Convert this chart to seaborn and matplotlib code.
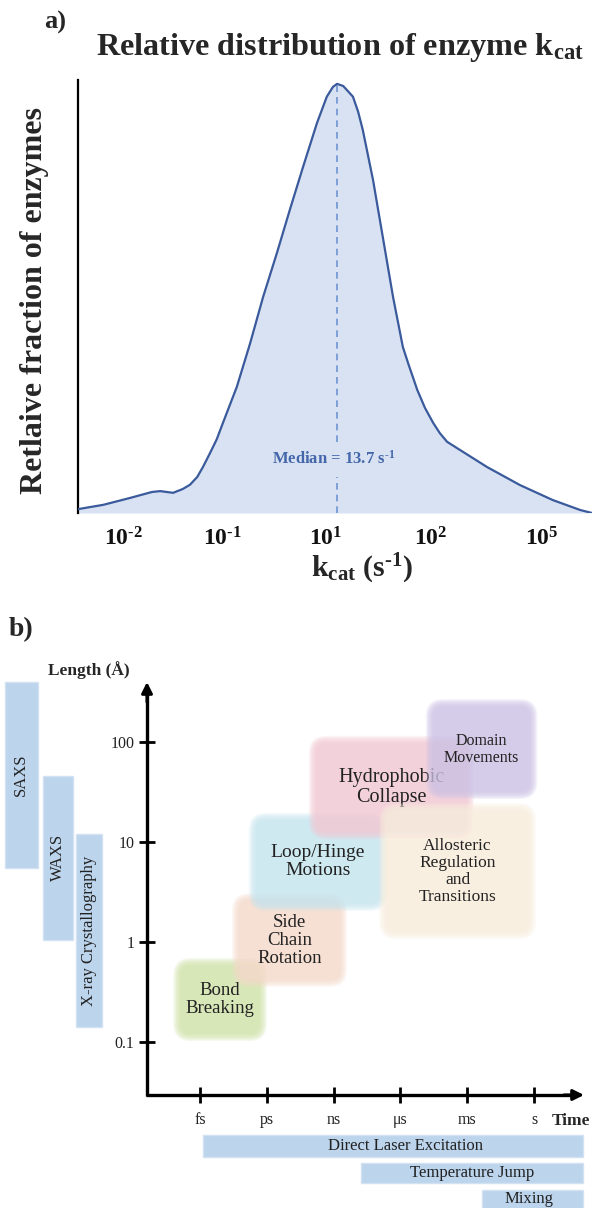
import numpy as np
import pandas as pd
import matplotlib
matplotlib.use("Agg")
import matplotlib.pyplot as plt
from matplotlib.patches import FancyBboxPatch, Rectangle
import seaborn as sns

# ---------------- Panel a data ----------------
# position along the (non-uniform) k_cat axis, 0..100 across the plotting area
kcat_pos = [0.0, 4.9, 10.1, 14.4, 16.0, 18.5, 20.4, 21.8, 23.2, 24.3,
            25.7, 27.0, 28.2, 30.9, 33.5, 36.0, 38.7, 41.2, 43.8, 46.5,
            48.4, 49.6, 50.4, 51.6, 53.5, 54.5, 55.4, 57.4, 59.3, 61.3,
            63.2, 64.2, 66.0, 67.5, 69.1, 70.4, 71.8, 74.3, 79.6, 86.0,
            92.4, 97.7, 100.0]
rel_fraction = [0.009, 0.019, 0.035, 0.049, 0.051, 0.047, 0.056, 0.066, 0.084, 0.107,
                0.140, 0.172, 0.210, 0.294, 0.396, 0.503, 0.606, 0.706, 0.807, 0.909,
                0.970, 0.993, 1.000, 0.995, 0.970, 0.935, 0.893, 0.776, 0.643, 0.503,
                0.387, 0.350, 0.287, 0.245, 0.210, 0.186, 0.166, 0.147, 0.107, 0.065,
                0.030, 0.007, 0.0]
kcat_tick_pos = [8.9, 28.0, 48.1, 68.7, 90.3]
kcat_tick_labels = [r'$\mathbf{10^{‐2}}$', r'$\mathbf{10^{‐1}}$', r'$\mathbf{10^{1}}$',
                    r'$\mathbf{10^{2}}$', r'$\mathbf{10^{5}}$']
median_pos = 50.4
median_label = r'Median = 13.7 s$^{\mathbf{‐1}}$'

# ---------------- Panel b data ----------------
time_labels = ['fs', 'ps', 'ns', 'μs', 'ms', 's']
length_ticks = [0.1, 1, 10, 100]
length_labels = ['0.1', '1', '10', '100']

processes = ['Bond\nBreaking', 'Side\nChain\nRotation', 'Loop/Hinge\nMotions',
             'Hydrophobic\nCollapse', 'Allosteric\nRegulation\nand\nTransitions',
             'Domain\nMovements']
proc_t_start = [-0.34, 0.54, 0.79, 1.69, 2.74, 3.44]   # time index (fs=0 ... s=5)
proc_t_end = [0.94, 2.14, 2.74, 4.04, 4.97, 4.99]
proc_len_min = [0.112, 0.39, 2.24, 11.7, 1.17, 29.5]   # Angstrom
proc_len_max = [0.63, 2.8, 17.8, 105, 22.4, 245]
proc_colors = ['#d2e4ab', '#f6dacb', '#c6e6f0', '#f3c9d4', '#f9eedd', '#cdc3e6']

struct_methods = ['SAXS', 'WAXS', 'X-ray Crystallography']
struct_len_min = [5.5, 1.05, 0.14]
struct_len_max = [400, 46, 12]

kin_methods = ['Direct Laser Excitation', 'Temperature Jump', 'Mixing']
kin_t_start = [0.05, 2.41, 4.22]
kin_t_end = [5.73, 5.73, 5.73]

# ---------------- style ----------------
sns.set_theme(style='white')
SERIF = ['Liberation Serif', 'DejaVu Serif']
plt.rcParams['font.family'] = SERIF
plt.rcParams['mathtext.fontset'] = 'custom'
plt.rcParams['mathtext.rm'] = 'Liberation Serif'
plt.rcParams['mathtext.bf'] = 'Liberation Serif:bold'
plt.rcParams['mathtext.it'] = 'Liberation Serif:italic'

W, H = 592, 1208
fig = plt.figure(figsize=(W / 100, H / 100), dpi=100)

def fx(px):
    return px / W

def fy(py):
    return 1 - py / H

# ================= Panel a =================
ax = fig.add_axes([fx(78), fy(513), fx(592) - fx(78), fy(80) - fy(513)])
df = pd.DataFrame({'pos': kcat_pos, 'frac': rel_fraction})
ax.fill_between(df['pos'], df['frac'], 0, color='#d8e2f2', lw=0, zorder=1)
sns.lineplot(data=df, x='pos', y='frac', ax=ax, color='#3a5a9c', lw=1.6, zorder=3)
ax.set_xlim(0, 100)
ax.set_ylim(0, 1.009)
for s in ['top', 'right', 'bottom']:
    ax.spines[s].set_visible(False)
ax.spines['left'].set_color('black')
ax.spines['left'].set_linewidth(1.6)
ax.set_yticks([])
ax.set_xticks(kcat_tick_pos, kcat_tick_labels)
ax.tick_params(axis='x', length=0, pad=10, labelsize=17, colors='#111111')
ax.set_xlabel('')
ax.set_ylabel('')

# median line with gap around label
med_text_y = 0.126
ax.vlines(median_pos, 0, 0.084, colors='#6f93d3', lw=1.2, linestyles=(0, (4, 3)), zorder=2)
ax.vlines(median_pos, 0.165, 1.0, colors='#6f93d3', lw=1.2, linestyles=(0, (4, 3)), zorder=2)
ax.text(median_pos - 0.6, med_text_y, median_label, ha='center', va='center',
        fontsize=12, fontweight='bold', color='#4466aa', zorder=4)

fig.text(fx(55), fy(22), 'a)', fontsize=19, fontweight='bold', ha='center', va='center')
fig.text(fx(340), fy(48), r'Relative distribution of enzyme k$_{\mathbf{cat}}$',
         fontsize=23.2, fontweight='bold', ha='center', va='center')
fig.text(fx(35), fy(301), 'Retlaive fraction of enzymes', rotation=90,
         fontsize=23, fontweight='bold', ha='center', va='center')
fig.text(fx(362), fy(569), r'k$_{\mathbf{cat}}$ (s$^{\mathbf{‐1}}$)',
         fontsize=21.5, fontweight='bold', ha='center', va='center')

# ================= Panel b =================
top_px = 640
axb = fig.add_axes([0, 0, 1, fy(top_px)])
# px = 200 + 66.8 * t ; py = 942 - 100 * log10(L)
xmin, xmax = (0 - 200) / 66.8, (592 - 200) / 66.8
ymin, ymax = (942 - 1208) / 100, (942 - top_px) / 100
axb.set_xlim(xmin, xmax)
axb.set_ylim(ymin, ymax)
x_per_px = (xmax - xmin) / W
y_per_px = (ymax - ymin) / (H - top_px)
asp = y_per_px / x_per_px

x0 = (147 - 200) / 66.8
y0 = (942 - 1095) / 100
xtip = (584 - 200) / 66.8
ytip = (942 - 682) / 100

for s in ['top', 'right']:
    axb.spines[s].set_visible(False)
for s in ['left', 'bottom']:
    axb.spines[s].set_color('black')
    axb.spines[s].set_linewidth(2.4)
    axb.spines[s].set_capstyle('butt')
axb.spines['left'].set_position(('data', x0))
axb.spines['bottom'].set_position(('data', y0))
axb.spines['left'].set_bounds(y0 - 0.012, ytip - 0.08)
axb.spines['bottom'].set_bounds(x0 - 0.018, xtip - 0.12)
axb.set_yticks(np.log10(length_ticks), length_labels)
axb.set_xticks(range(len(time_labels)), time_labels)
axb.tick_params(axis='both', direction='inout', length=12, width=2, colors='black',
                labelsize=11.5, labelcolor='#222222', bottom=True, left=True)
axb.tick_params(axis='x', pad=6)
axb.tick_params(axis='y', pad=3)
for lab in axb.get_xticklabels() + axb.get_yticklabels():
    lab.set_family(SERIF)

# arrow heads
axb.annotate('', xy=(x0, ytip), xytext=(x0, ytip - 0.2),
             arrowprops=dict(arrowstyle='-|>', color='black', lw=2.2,
                             mutation_scale=16, shrinkA=0, shrinkB=0), annotation_clip=False)
axb.annotate('', xy=(xtip, y0), xytext=(xtip - 0.3, y0),
             arrowprops=dict(arrowstyle='-|>', color='black', lw=2.2,
                             mutation_scale=16, shrinkA=0, shrinkB=0), annotation_clip=False)

axb.text((89 - 200) / 66.8, (942 - 670) / 100, 'Length (Å)', fontsize=12.5,
         fontweight='bold', ha='center', va='center')
axb.text((552 - 200) / 66.8, (942 - 1121) / 100, 'Time', fontsize=12.5,
         fontweight='bold', ha='left', va='center')
fig.text(fx(21), fy(630), 'b)', fontsize=20, fontweight='bold', ha='center', va='center')

# soft rounded process boxes (several faint layers give a blurred edge)
def soft_box(x_a, x_b, y_a, y_b, color, z):
    w, h = x_b - x_a, y_b - y_a
    r = 0.2
    grows = np.linspace(0.06, -0.05, 8)
    for grow in grows:
        gy = grow * asp
        p = FancyBboxPatch((x_a - grow, y_a - gy), w + 2 * grow, h + 2 * gy,
                           boxstyle=f"round,pad=0,rounding_size={max(r + grow, 0.02)}",
                           mutation_aspect=asp, fc=color, ec='none', alpha=0.19, zorder=z)
        axb.add_patch(p)

proc_fs = [13.5, 13.5, 14, 14.5, 12.5, 11.5]
proc_z = [1, 2, 3, 4, 6, 7]
text_z = [10, 10, 10, 5, 10, 10]
for i, name in enumerate(processes):
    ya, yb = np.log10(proc_len_min[i]), np.log10(proc_len_max[i])
    soft_box(proc_t_start[i], proc_t_end[i], ya, yb, proc_colors[i], proc_z[i])
    axb.text((proc_t_start[i] + proc_t_end[i]) / 2, (ya + yb) / 2, name,
             ha='center', va='center', fontsize=proc_fs[i], color='#222222',
             linespacing=1.08, zorder=text_z[i])

bar_color = '#bcd4ec'
bar_edge = '#d3e2f2'
# structural methods (vertical bars, left)
struct_x = [(-2.92, -2.43), (-2.35, -1.90), (-1.86, -1.47)]
for i, name in enumerate(struct_methods):
    ya, yb = np.log10(struct_len_min[i]), np.log10(struct_len_max[i])
    xa, xb = struct_x[i]
    axb.add_patch(Rectangle((xa, ya), xb - xa, yb - ya, fc=bar_color, ec=bar_edge, lw=1, zorder=2))
    axb.text((xa + xb) / 2, (ya + yb) / 2, name, rotation=90, ha='center', va='center',
             fontsize=12, color='#222222', zorder=3)

# kinetic methods (horizontal bars, bottom)
kin_y = [(-2.15, -1.93), (-2.41, -2.21), (-2.70, -2.48)]
kin_text_dx = [0.18, 0.0, -0.05]
kin_text_dy = [0.0, 0.0, 0.02]
for i, name in enumerate(kin_methods):
    ya, yb = kin_y[i]
    xa, xb = kin_t_start[i], kin_t_end[i]
    axb.add_patch(Rectangle((xa, ya), xb - xa, yb - ya, fc=bar_color, ec=bar_edge, lw=1, zorder=2))
    axb.text((xa + xb) / 2 + kin_text_dx[i], (ya + yb) / 2 + kin_text_dy[i], name,
             ha='center', va='center', fontsize=12, color='#222222', zorder=3)

axb.set_xlabel('')
axb.set_ylabel('')
axb.set_facecolor('none')

fig.savefig('out.png', dpi=100)
